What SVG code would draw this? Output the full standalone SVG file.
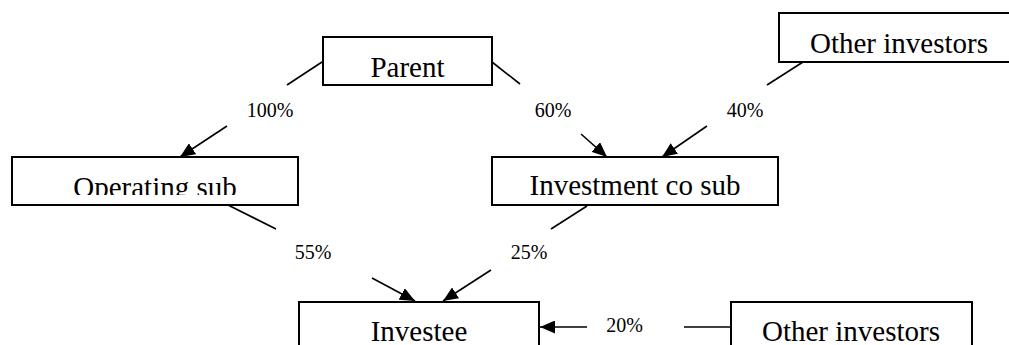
<svg xmlns="http://www.w3.org/2000/svg" width="1009" height="345" viewBox="0 0 1009 345">
  <style>
    .box { fill: #ffffff; stroke: #000000; stroke-width: 2; }
    .name { font-family: "Liberation Serif", "Times New Roman", serif; font-size: 29px; fill: #000000; text-anchor: middle; }
    .pct { font-family: "Liberation Serif", "Times New Roman", serif; font-size: 20px; fill: #000000; text-anchor: middle; }
    .link { fill: none; stroke: #000000; stroke-width: 1.6; }
  </style>
  <defs>
    <marker id="arrow" markerUnits="userSpaceOnUse" markerWidth="15" markerHeight="13" refX="15" refY="6.5" orient="auto">
      <path d="M0,0 L15,6.5 L0,13 z" fill="#000000"/>
    </marker>
    <clipPath id="opClip">
      <rect x="12" y="157" width="286" height="38"/>
    </clipPath>
  </defs>

  <!-- ownership connectors, each split around its percentage label -->
  <g id="connectors">
    <line class="link" x1="322" y1="62" x2="287" y2="85"/>
    <line class="link" x1="227" y1="126" x2="180" y2="157" marker-end="url(#arrow)"/>
    <text class="pct" x="270" y="116.5">100%</text>

    <line class="link" x1="492" y1="62" x2="520" y2="84"/>
    <line class="link" x1="581" y1="134" x2="607" y2="157" marker-end="url(#arrow)"/>
    <text class="pct" x="553" y="116.5">60%</text>

    <line class="link" x1="803" y1="62" x2="767" y2="85"/>
    <line class="link" x1="707" y1="126" x2="662" y2="157" marker-end="url(#arrow)"/>
    <text class="pct" x="745" y="116.5">40%</text>

    <line class="link" x1="228" y1="205" x2="276" y2="229"/>
    <line class="link" x1="372" y1="278" x2="415" y2="301" marker-end="url(#arrow)"/>
    <text class="pct" x="313" y="258.5">55%</text>

    <line class="link" x1="587" y1="206" x2="551" y2="229"/>
    <line class="link" x1="491" y1="270" x2="443" y2="301" marker-end="url(#arrow)"/>
    <text class="pct" x="529" y="258.5">25%</text>

    <line class="link" x1="731" y1="327" x2="684" y2="327"/>
    <line class="link" x1="587" y1="327" x2="540" y2="327" marker-end="url(#arrow)"/>
    <text class="pct" x="624.5" y="331.5">20%</text>
  </g>

  <g id="parent">
    <rect class="box" x="323" y="37" width="169" height="48"/>
    <text class="name" x="407.5" y="76.5">Parent</text>
  </g>

  <g id="other-investors-top">
    <rect class="box" x="779" y="13" width="240" height="49"/>
    <text class="name" x="899" y="53">Other investors</text>
  </g>

  <g id="operating-sub">
    <rect class="box" x="12" y="157" width="286" height="48"/>
    <text class="name" x="155" y="197" clip-path="url(#opClip)">Operating sub</text>
  </g>

  <g id="investment-co-sub">
    <rect class="box" x="492" y="157" width="286" height="48"/>
    <text class="name" x="635" y="195">Investment co sub</text>
  </g>

  <g id="investee">
    <rect class="box" x="299" y="302" width="240" height="60"/>
    <text class="name" x="419" y="341">Investee</text>
  </g>

  <g id="other-investors-bottom">
    <rect class="box" x="731" y="302" width="241" height="60"/>
    <text class="name" x="851" y="341">Other investors</text>
  </g>
</svg>
